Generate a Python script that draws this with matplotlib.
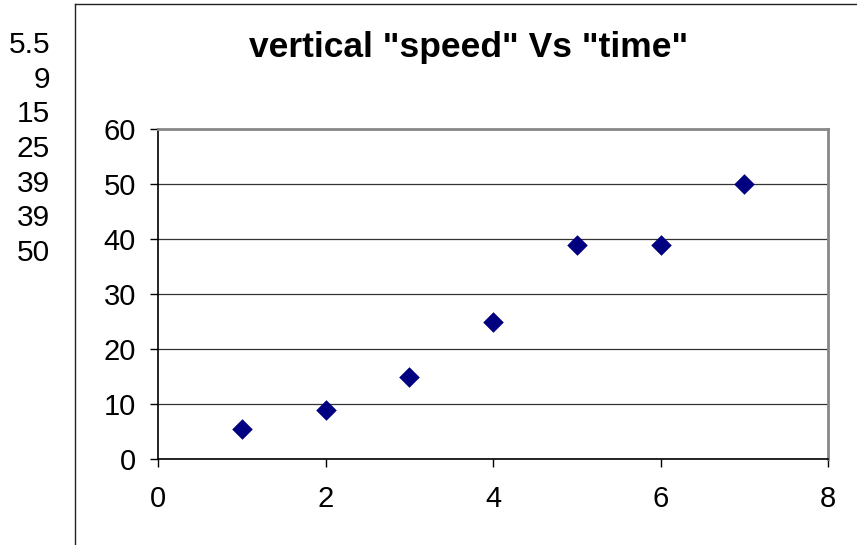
import matplotlib
matplotlib.use("Agg")
import matplotlib.pyplot as plt
from matplotlib.lines import Line2D

plt.rcParams["font.family"] = ["Liberation Sans", "DejaVu Sans"]

# data
time = [1, 2, 3, 4, 5, 6, 7]
speed = [5.5, 9, 15, 25, 39, 39, 50]
speed_labels = ["5.5", "9", "15", "25", "39", "39", "50"]

W, H = 857, 545
fig = plt.figure(figsize=(W / 100, H / 100), dpi=100)

# spreadsheet cell column on the left
for i, lab in enumerate(speed_labels):
    y = 45 + i * 34.7
    fig.text(50 / W, 1 - y / H, lab, ha="right", va="center", fontsize=21.5)

# chart object frame (left + top edges visible)
fig.add_artist(Line2D([75 / W, 75 / W], [0, 1 - 4 / H], transform=fig.transFigure,
                      color="#222222", linewidth=1.0))
fig.add_artist(Line2D([75 / W, 1], [1 - 4 / H, 1 - 4 / H], transform=fig.transFigure,
                      color="#222222", linewidth=1.0))

ax = fig.add_axes([158 / W, 1 - 459 / H, (828 - 158) / W, (459 - 129) / H])
ax.scatter(time, speed, marker="D", s=110, color="#000080", zorder=3, linewidths=0)

ax.set_xlim(0, 8)
ax.set_ylim(0, 60)
ax.set_xticks(range(0, 9, 2))
ax.set_yticks(range(0, 61, 10))
ax.yaxis.grid(True, color="#333333", linewidth=0.9)
ax.set_axisbelow(True)
ax.tick_params(axis="both", direction="out", length=6, width=1, labelsize=21)
ax.tick_params(axis="x", pad=13)
ax.tick_params(axis="y", pad=10)
for side in ["left", "bottom"]:
    ax.spines[side].set_color("black")
    ax.spines[side].set_linewidth(1.2)
for side in ["top", "right"]:
    ax.spines[side].set_color("#888888")
    ax.spines[side].set_linewidth(2)

fig.text(469 / W, 1 - 47 / H, 'vertical "speed" Vs "time"', ha="center", va="center",
         fontsize=25.5, fontweight="bold")

fig.savefig("out.png", dpi=100)
